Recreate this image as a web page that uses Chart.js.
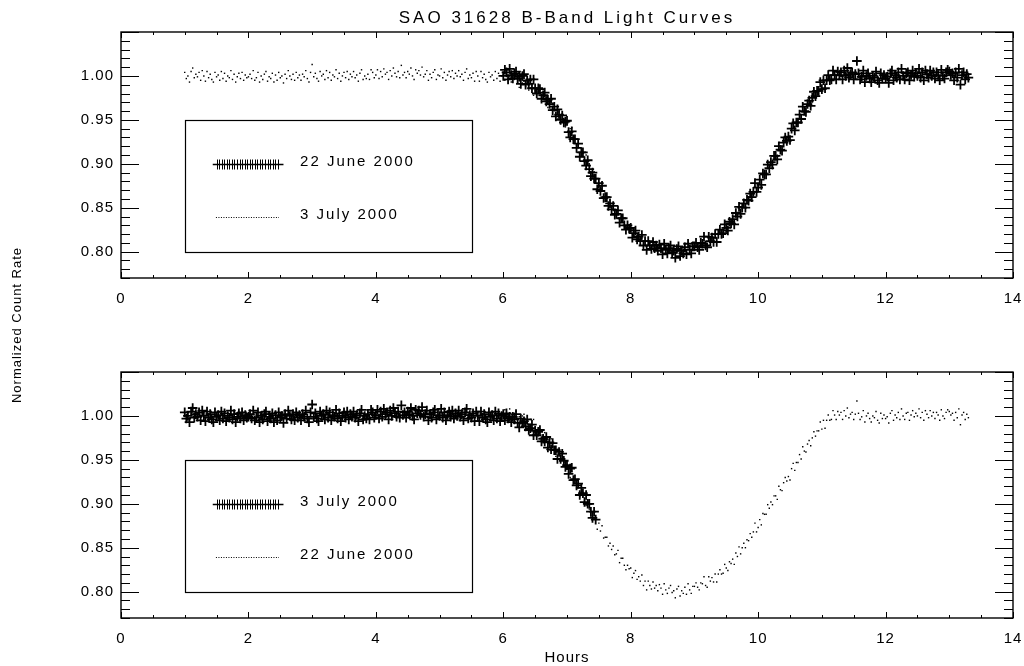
<!DOCTYPE html>
<html lang="en">
<head>
<meta charset="UTF-8">
<title>SAO 31628 B-Band Light Curves</title>
<script src="https://cdn.jsdelivr.net/npm/chart.js"></script>
<style>
  body { margin: 0; background: #fff; overflow: hidden; }
  #wrap { position: relative; width: 1024px; height: 666px; }
  canvas { position: absolute; left: 0; top: 0; }
</style>
</head>
<body>
<div id="wrap">
  <canvas id="bottomChart" width="1024" height="666"></canvas>
  <canvas id="topChart" width="1024" height="666"></canvas>
</div>
<script>
// tick labels
const xTicks = [0, 2, 4, 6, 8, 10, 12, 14];
const yTicks = [0.80, 0.85, 0.90, 0.95, 1.00];

// 22 June 2000 (hours, normalized count rate)
const june22Hours = [
  6.000, 6.025, 6.050, 6.075, 6.100, 6.125, 6.150, 6.175,
  6.200, 6.225, 6.250, 6.275, 6.300, 6.325, 6.350, 6.375,
  6.400, 6.425, 6.450, 6.475, 6.500, 6.525, 6.550, 6.575,
  6.600, 6.625, 6.650, 6.675, 6.700, 6.725, 6.750, 6.775,
  6.800, 6.825, 6.850, 6.875, 6.900, 6.925, 6.950, 6.975,
  7.000, 7.025, 7.050, 7.075, 7.100, 7.125, 7.150, 7.175,
  7.200, 7.225, 7.250, 7.275, 7.300, 7.325, 7.350, 7.375,
  7.400, 7.425, 7.450, 7.475, 7.500, 7.525, 7.550, 7.575,
  7.600, 7.625, 7.650, 7.675, 7.700, 7.725, 7.750, 7.775,
  7.800, 7.825, 7.850, 7.875, 7.900, 7.925, 7.950, 7.975,
  8.000, 8.025, 8.050, 8.075, 8.100, 8.125, 8.150, 8.175,
  8.200, 8.225, 8.250, 8.275, 8.300, 8.325, 8.350, 8.375,
  8.400, 8.425, 8.450, 8.475, 8.500, 8.525, 8.550, 8.575,
  8.600, 8.625, 8.650, 8.675, 8.700, 8.725, 8.750, 8.775,
  8.800, 8.825, 8.850, 8.875, 8.900, 8.925, 8.950, 8.975,
  9.000, 9.025, 9.050, 9.075, 9.100, 9.125, 9.150, 9.175,
  9.200, 9.225, 9.250, 9.275, 9.300, 9.325, 9.350, 9.375,
  9.400, 9.425, 9.450, 9.475, 9.500, 9.525, 9.550, 9.575,
  9.600, 9.625, 9.650, 9.675, 9.700, 9.725, 9.750, 9.775,
  9.800, 9.825, 9.850, 9.875, 9.900, 9.925, 9.950, 9.975,
  10.000, 10.025, 10.050, 10.075, 10.100, 10.125, 10.150, 10.175,
  10.200, 10.225, 10.250, 10.275, 10.300, 10.325, 10.350, 10.375,
  10.400, 10.425, 10.450, 10.475, 10.500, 10.525, 10.550, 10.575,
  10.600, 10.625, 10.650, 10.675, 10.700, 10.725, 10.750, 10.775,
  10.800, 10.825, 10.850, 10.875, 10.900, 10.925, 10.950, 10.975,
  11.000, 11.025, 11.050, 11.075, 11.100, 11.125, 11.150, 11.175,
  11.200, 11.225, 11.250, 11.275, 11.300, 11.325, 11.350, 11.375,
  11.400, 11.425, 11.450, 11.475, 11.500, 11.525, 11.550, 11.575,
  11.600, 11.625, 11.650, 11.675, 11.700, 11.725, 11.750, 11.775,
  11.800, 11.825, 11.850, 11.875, 11.900, 11.925, 11.950, 11.975,
  12.000, 12.025, 12.050, 12.075, 12.100, 12.125, 12.150, 12.175,
  12.200, 12.225, 12.250, 12.275, 12.300, 12.325, 12.350, 12.375,
  12.400, 12.425, 12.450, 12.475, 12.500, 12.525, 12.550, 12.575,
  12.600, 12.625, 12.650, 12.675, 12.700, 12.725, 12.750, 12.775,
  12.800, 12.825, 12.850, 12.875, 12.900, 12.925, 12.950, 12.975,
  13.000, 13.025, 13.050, 13.075, 13.100, 13.125, 13.150, 13.175,
  13.200, 13.225, 13.250, 13.275, 13.300
];
const june22Rate = [
  1.000, 1.007, 1.004, 0.996, 1.008, 1.001, 0.997, 1.003,
  1.005, 0.997, 0.999, 0.991, 1.000, 1.002, 0.990, 0.995,
  0.991, 0.996, 0.986, 0.996, 0.986, 0.980, 0.986, 0.985,
  0.974, 0.978, 0.981, 0.971, 0.973, 0.968, 0.974, 0.961,
  0.965, 0.954, 0.962, 0.956, 0.950, 0.955, 0.947, 0.948,
  0.949, 0.936, 0.930, 0.937, 0.928, 0.928, 0.918, 0.923,
  0.908, 0.913, 0.913, 0.903, 0.898, 0.904, 0.894, 0.886,
  0.890, 0.883, 0.883, 0.871, 0.878, 0.869, 0.875, 0.861,
  0.862, 0.862, 0.852, 0.855, 0.848, 0.852, 0.842, 0.843,
  0.847, 0.833, 0.838, 0.838, 0.830, 0.825, 0.830, 0.826,
  0.827, 0.816, 0.821, 0.824, 0.814, 0.817, 0.812, 0.819,
  0.807, 0.812, 0.802, 0.812, 0.807, 0.803, 0.811, 0.804,
  0.807, 0.801, 0.808, 0.804, 0.797, 0.809, 0.802, 0.798,
  0.804, 0.807, 0.799, 0.801, 0.793, 0.803, 0.806, 0.795,
  0.801, 0.798, 0.805, 0.797, 0.809, 0.802, 0.798, 0.806,
  0.806, 0.810, 0.805, 0.802, 0.810, 0.809, 0.817, 0.807,
  0.805, 0.817, 0.812, 0.816, 0.811, 0.820, 0.811, 0.820,
  0.825, 0.820, 0.821, 0.831, 0.827, 0.824, 0.834, 0.832,
  0.837, 0.831, 0.844, 0.840, 0.851, 0.843, 0.850, 0.855,
  0.850, 0.859, 0.858, 0.866, 0.862, 0.868, 0.878, 0.868,
  0.873, 0.882, 0.876, 0.889, 0.888, 0.888, 0.899, 0.895,
  0.902, 0.899, 0.909, 0.909, 0.905, 0.920, 0.916, 0.915,
  0.924, 0.930, 0.926, 0.931, 0.927, 0.940, 0.946, 0.938,
  0.947, 0.947, 0.956, 0.951, 0.965, 0.960, 0.959, 0.968,
  0.972, 0.966, 0.975, 0.982, 0.977, 0.983, 0.983, 0.993,
  0.985, 0.995, 0.986, 0.995, 1.001, 0.995, 0.996, 1.006,
  1.001, 0.996, 1.005, 1.001, 1.004, 0.996, 1.006, 1.000,
  1.009, 0.998, 1.002, 1.004, 0.996, 1.002, 1.017, 1.003,
  0.996, 0.999, 1.006, 0.993, 1.000, 1.003, 0.997, 0.993,
  1.000, 0.998, 1.005, 0.995, 0.992, 1.003, 0.997, 1.001,
  0.997, 0.999, 0.992, 1.003, 1.006, 0.995, 1.001, 0.998,
  1.004, 0.996, 1.008, 1.000, 0.996, 1.003, 1.004, 0.995,
  1.001, 1.006, 0.999, 1.003, 1.000, 1.008, 0.998, 1.004,
  0.995, 1.006, 1.002, 0.998, 1.006, 1.000, 1.004, 0.997,
  1.004, 1.001, 0.995, 1.007, 1.000, 0.997, 1.004, 1.007,
  1.005, 1.001, 1.003, 0.995, 1.004, 0.998, 1.008, 0.990,
  1.001, 1.004, 0.996, 1.002, 0.998
];

// 3 July 2000 (hours, normalized count rate)
const july3Hours = [
  1.000, 1.025, 1.050, 1.075, 1.100, 1.125, 1.150, 1.175,
  1.200, 1.225, 1.250, 1.275, 1.300, 1.325, 1.350, 1.375,
  1.400, 1.425, 1.450, 1.475, 1.500, 1.525, 1.550, 1.575,
  1.600, 1.625, 1.650, 1.675, 1.700, 1.725, 1.750, 1.775,
  1.800, 1.825, 1.850, 1.875, 1.900, 1.925, 1.950, 1.975,
  2.000, 2.025, 2.050, 2.075, 2.100, 2.125, 2.150, 2.175,
  2.200, 2.225, 2.250, 2.275, 2.300, 2.325, 2.350, 2.375,
  2.400, 2.425, 2.450, 2.475, 2.500, 2.525, 2.550, 2.575,
  2.600, 2.625, 2.650, 2.675, 2.700, 2.725, 2.750, 2.775,
  2.800, 2.825, 2.850, 2.875, 2.900, 2.925, 2.950, 2.975,
  3.000, 3.025, 3.050, 3.075, 3.100, 3.125, 3.150, 3.175,
  3.200, 3.225, 3.250, 3.275, 3.300, 3.325, 3.350, 3.375,
  3.400, 3.425, 3.450, 3.475, 3.500, 3.525, 3.550, 3.575,
  3.600, 3.625, 3.650, 3.675, 3.700, 3.725, 3.750, 3.775,
  3.800, 3.825, 3.850, 3.875, 3.900, 3.925, 3.950, 3.975,
  4.000, 4.025, 4.050, 4.075, 4.100, 4.125, 4.150, 4.175,
  4.200, 4.225, 4.250, 4.275, 4.300, 4.325, 4.350, 4.375,
  4.400, 4.425, 4.450, 4.475, 4.500, 4.525, 4.550, 4.575,
  4.600, 4.625, 4.650, 4.675, 4.700, 4.725, 4.750, 4.775,
  4.800, 4.825, 4.850, 4.875, 4.900, 4.925, 4.950, 4.975,
  5.000, 5.025, 5.050, 5.075, 5.100, 5.125, 5.150, 5.175,
  5.200, 5.225, 5.250, 5.275, 5.300, 5.325, 5.350, 5.375,
  5.400, 5.425, 5.450, 5.475, 5.500, 5.525, 5.550, 5.575,
  5.600, 5.625, 5.650, 5.675, 5.700, 5.725, 5.750, 5.775,
  5.800, 5.825, 5.850, 5.875, 5.900, 5.925, 5.950, 5.975,
  6.000, 6.025, 6.050, 6.075, 6.100, 6.125, 6.150, 6.175,
  6.200, 6.225, 6.250, 6.275, 6.300, 6.325, 6.350, 6.375,
  6.400, 6.425, 6.450, 6.475, 6.500, 6.525, 6.550, 6.575,
  6.600, 6.625, 6.650, 6.675, 6.700, 6.725, 6.750, 6.775,
  6.800, 6.825, 6.850, 6.875, 6.900, 6.925, 6.950, 6.975,
  7.000, 7.025, 7.050, 7.075, 7.100, 7.125, 7.150, 7.175,
  7.200, 7.225, 7.250, 7.275, 7.300, 7.325, 7.350, 7.375,
  7.400, 7.425, 7.450
];
const july3Rate = [
  1.004, 0.997, 1.000, 0.993, 1.005, 1.009, 0.998, 1.002,
  0.999, 1.004, 0.995, 1.006, 1.000, 0.994, 1.005, 0.998,
  1.002, 0.996, 0.993, 1.004, 0.999, 1.001, 0.995, 1.005,
  0.997, 1.003, 0.994, 1.000, 0.998, 1.006, 0.996, 1.002,
  0.993, 0.999, 1.003, 0.997, 1.004, 0.995, 1.001, 0.998,
  0.999, 1.002, 0.997, 1.006, 0.995, 0.998, 1.004, 0.993,
  1.000, 0.996, 1.002, 1.005, 0.994, 0.999, 0.997, 1.003,
  0.993, 1.001, 0.995, 1.004, 0.998, 1.000, 0.992, 1.002,
  0.997, 1.006, 1.000, 0.996, 1.002, 0.995, 1.004, 0.998,
  1.001, 0.995, 1.002, 0.999, 1.006, 0.997, 0.993, 1.004,
  1.013, 0.999, 1.003, 0.997, 0.994, 1.005, 1.000, 1.002,
  0.996, 1.006, 0.998, 1.004, 0.995, 1.001, 0.999, 1.007,
  0.997, 1.003, 0.994, 1.000, 1.004, 0.998, 1.005, 0.996,
  1.002, 0.999, 1.005, 0.998, 1.001, 0.994, 1.003, 1.007,
  0.996, 1.000, 0.997, 1.002, 0.996, 1.007, 1.004, 0.998,
  1.001, 1.007, 0.997, 1.005, 0.999, 1.008, 1.002, 1.004,
  0.996, 1.006, 1.000, 1.009, 1.003, 0.999, 1.005, 0.998,
  1.012, 1.001, 1.004, 0.998, 1.005, 1.002, 1.009, 1.000,
  0.996, 1.007, 1.003, 1.006, 1.001, 1.010, 0.999, 1.002,
  1.006, 0.995, 1.002, 0.998, 1.004, 1.007, 0.996, 1.001,
  1.000, 1.008, 0.998, 1.004, 0.995, 1.001, 1.005, 0.999,
  1.006, 0.997, 1.003, 1.000, 1.006, 0.999, 1.002, 0.995,
  1.004, 1.008, 0.997, 1.001, 0.998, 1.003, 0.994, 1.005,
  1.000, 0.994, 1.005, 0.998, 1.002, 0.996, 0.993, 1.004,
  0.999, 1.001, 0.995, 1.005, 0.997, 1.003, 0.994, 1.000,
  1.002, 0.995, 1.003, 0.997, 0.999, 0.993, 0.999, 0.996,
  1.002, 0.992, 0.987, 0.997, 0.992, 0.994, 0.988, 0.996,
  0.984, 0.986, 0.990, 0.978, 0.983, 0.978, 0.982, 0.984,
  0.971, 0.974, 0.971, 0.976, 0.964, 0.970, 0.962, 0.969,
  0.961, 0.961, 0.951, 0.959, 0.951, 0.957, 0.949, 0.942,
  0.944, 0.934, 0.940, 0.941, 0.927, 0.928, 0.921, 0.923,
  0.910, 0.918, 0.912, 0.902, 0.910, 0.900, 0.900, 0.891,
  0.884, 0.891, 0.882
];

const june22 = june22Hours.map((h, i) => ({ x: h, y: june22Rate[i] }));
const july3 = july3Hours.map((h, i) => ({ x: h, y: july3Rate[i] }));

const FONT = '"Liberation Sans", Arial, sans-serif';

function plusSet(data) {
  return {
    data: data, pointStyle: 'cross', pointRadius: 4.8, borderWidth: 1.8,
    borderColor: '#000', backgroundColor: '#000', showLine: false, order: 1
  };
}
function dotSet(data) {
  return {
    data: data, pointStyle: 'rect', pointRadius: 1, borderWidth: 0,
    backgroundColor: '#000', borderColor: '#000', showLine: false, order: 2
  };
}

// IDL style frame: box, inward ticks on all sides, legend box
function idlFrame(legendNames, extraText) {
  return {
    id: 'idlFrame',
    beforeDraw(chart) { chart.ctx.letterSpacing = '1px'; },
    afterDraw(chart) {
      const ctx = chart.ctx;
      const xs = chart.scales.x, ys = chart.scales.y;
      const L = xs.getPixelForValue(xs.min), R = xs.getPixelForValue(xs.max);
      const T = ys.getPixelForValue(ys.max), B = ys.getPixelForValue(ys.min);
      ctx.save();
      ctx.strokeStyle = '#000';
      ctx.fillStyle = '#000';
      ctx.lineWidth = 1.4;
      ctx.strokeRect(L, T, R - L, B - T);

      ctx.lineWidth = 1;
      ctx.beginPath();
      for (let i = 0; i <= 28; i++) {
        const px = Math.round(xs.getPixelForValue(i * 0.5)) + 0.5;
        const len = i % 4 === 0 ? 6 : 3;
        ctx.moveTo(px, B); ctx.lineTo(px, B - len);
        ctx.moveTo(px, T); ctx.lineTo(px, T + len);
      }
      for (let i = 77; i <= 105; i++) {
        const py = Math.round(ys.getPixelForValue(i / 100)) + 0.5;
        const len = i % 5 === 0 ? 18 : 9;
        ctx.moveTo(L, py); ctx.lineTo(L + len, py);
        ctx.moveTo(R, py); ctx.lineTo(R - len, py);
      }
      ctx.stroke();

      // legend box
      const bx0 = xs.getPixelForValue(1.0), bx1 = xs.getPixelForValue(5.5);
      const by0 = ys.getPixelForValue(0.95), by1 = ys.getPixelForValue(0.80);
      ctx.lineWidth = 1.2;
      ctx.strokeRect(Math.round(bx0) + 0.5, Math.round(by0) + 0.5,
                     Math.round(bx1 - bx0), Math.round(by1 - by0));

      // plus symbol entry
      const l1 = Math.round(ys.getPixelForValue(0.90)) + 0.5;
      ctx.lineWidth = 1.6;
      ctx.beginPath();
      ctx.moveTo(xs.getPixelForValue(1.44), l1);
      ctx.lineTo(xs.getPixelForValue(2.55), l1);
      ctx.stroke();
      ctx.lineWidth = 1;
      ctx.beginPath();
      for (let v = 1.50; v <= 2.49; v += 0.04) {
        const px = Math.round(xs.getPixelForValue(v)) + 0.5;
        ctx.moveTo(px, l1 - 5); ctx.lineTo(px, l1 + 5);
      }
      ctx.stroke();

      // dotted entry
      const l2 = Math.round(ys.getPixelForValue(0.84)) + 0.5;
      ctx.setLineDash([1, 1.5]);
      ctx.beginPath();
      ctx.moveTo(xs.getPixelForValue(1.49), l2);
      ctx.lineTo(xs.getPixelForValue(2.48), l2);
      ctx.stroke();
      ctx.setLineDash([]);

      ctx.letterSpacing = '2px';
      ctx.font = '15px ' + FONT;
      ctx.textAlign = 'left';
      ctx.textBaseline = 'alphabetic';
      const tx = xs.getPixelForValue(2.81);
      ctx.fillText(legendNames[0], tx, l1 + 1);
      ctx.fillText(legendNames[1], tx, l2 + 1);

      if (extraText) extraText(ctx, L, R);
      ctx.restore();
      ctx.letterSpacing = '0px';
    }
  };
}

function scalesFor(xHeight) {
  return {
    x: {
      type: 'linear', min: 0, max: 14,
      afterBuildTicks: s => { s.ticks = xTicks.map(v => ({ value: v })); },
      afterFit: s => { s.height = xHeight; },
      grid: { display: true, drawOnChartArea: false, drawTicks: true,
              tickLength: 10, color: 'rgba(0,0,0,0)' },
      border: { display: false },
      ticks: { color: '#000', padding: 2, font: { family: FONT, size: 15 }, maxRotation: 0 }
    },
    y: {
      min: 0.77, max: 1.05,
      afterBuildTicks: s => { s.ticks = yTicks.map(v => ({ value: v })); },
      afterFit: s => { s.width = 121; },
      grid: { display: false, drawTicks: false },
      border: { display: false },
      ticks: { color: '#000', padding: 7, font: { family: FONT, size: 15 },
               callback: v => v.toFixed(2) }
    }
  };
}

const common = {
  responsive: false, animation: false, devicePixelRatio: 1,
  plugins: { legend: { display: false }, tooltip: { enabled: false } }
};

new Chart(document.getElementById('topChart'), {
  type: 'scatter',
  data: { datasets: [plusSet(june22), dotSet(july3)] },
  options: Object.assign({}, common, {
    layout: { padding: { top: 32, left: 0, right: 11, bottom: 348 } },
    scales: scalesFor(40)
  }),
  plugins: [idlFrame(['22 June 2000', '3 July 2000'], (ctx, L, R) => {
    ctx.textAlign = 'center';
    ctx.letterSpacing = '3px';
    ctx.font = '17px ' + FONT;
    ctx.fillText('SAO 31628 B-Band Light Curves', (L + R) / 2, 23);
    ctx.save();
    ctx.letterSpacing = '1px';
    ctx.font = '13px ' + FONT;
    ctx.translate(21, 325);
    ctx.rotate(-Math.PI / 2);
    ctx.fillText('Normalized Count Rate', 0, 0);
    ctx.restore();
  })]
});

new Chart(document.getElementById('bottomChart'), {
  type: 'scatter',
  data: { datasets: [plusSet(july3), dotSet(june22)] },
  options: Object.assign({}, common, {
    layout: { padding: { top: 372, left: 0, right: 11, bottom: 0 } },
    scales: scalesFor(48)
  }),
  plugins: [idlFrame(['3 July 2000', '22 June 2000'], (ctx, L, R) => {
    ctx.textAlign = 'center';
    ctx.letterSpacing = '1px';
    ctx.font = '15px ' + FONT;
    ctx.fillText('Hours', (L + R) / 2, 662);
  })]
});
</script>
</body>
</html>
